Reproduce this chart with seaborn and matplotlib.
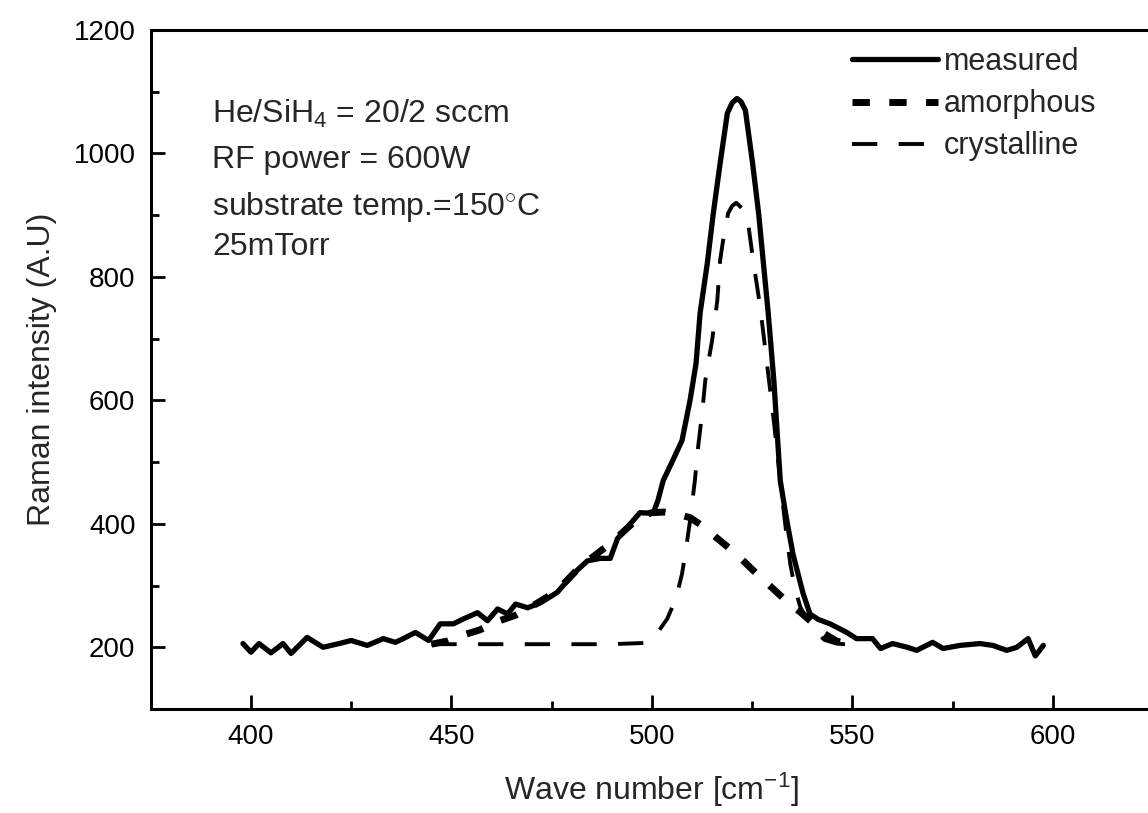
import numpy as np
import pandas as pd
import seaborn as sns
import matplotlib.pyplot as plt
from matplotlib.ticker import MultipleLocator

# measured Raman spectrum
measured_x = [398, 400, 402, 405, 408, 410, 414, 418, 422, 425, 429, 433, 436, 438,
              441, 444.3, 447.2, 450.5, 453, 456.5, 459, 461.5, 464, 466, 469, 472.2,
              476.4, 480.4, 483.9, 487.1, 489.6, 491.4, 493.8, 497, 500.3, 501.5,
              502.8, 505, 507.5, 509.5, 511, 512, 513.8, 515.3, 517, 518.8, 520,
              521.2, 522.2, 523.3, 525.1, 526.6, 527.8, 529, 530.4, 532, 533.5,
              535.2, 537.7, 539.4, 541.5, 544.4, 548.6, 551, 555, 557, 560, 563.7,
              566, 570, 572.6, 576.8, 581.8, 585, 588.5, 591, 593.8, 595.6, 597.6]
measured_y = [206, 192, 206, 191, 206, 190, 216, 200, 206, 211, 203, 214, 208, 214,
              224, 211, 238, 238, 246, 256, 243, 262, 254, 270, 264, 272,
              289, 319, 340, 344, 344, 376, 394, 418, 417, 438,
              470, 500, 535, 600, 660, 741, 822, 903, 984, 1065, 1082,
              1089, 1084, 1070, 984, 903, 822, 741, 632, 470, 410,
              350, 287, 254, 245, 238, 224, 214, 214, 198, 206, 200,
              195, 208, 198, 203, 206, 203, 195, 200, 214, 186, 203]

# broad component
amorphous_x = [445, 449, 453, 457, 462, 466, 470, 474, 478, 482, 486, 490, 494, 497,
               500, 503, 506, 509.5, 513, 516, 519, 522, 525, 528, 531, 534, 537,
               540, 543, 546, 550]
amorphous_y = [205, 210, 220, 228, 243, 252, 266, 282, 303, 330, 350, 370, 394, 412,
               418, 419, 416, 410, 395, 378, 362, 345, 326, 308, 290, 272, 257,
               240, 222, 210, 204]

# narrow component
crystalline_x = [445, 450, 460, 470, 480, 490, 498, 501, 503.8, 506, 507.5, 508.3,
                 509.5, 510.7, 511.5, 512.5, 513.3, 514, 515, 516.3, 517, 518, 519,
                 520, 521, 522.5, 524, 525.3, 527, 528.2, 529.4, 530.5, 531.5, 532.5,
                 533.5, 534.5, 535.5, 537, 539, 541, 543, 546, 550]
crystalline_y = [205, 205, 205, 205, 205, 205, 207, 220, 246, 279, 319, 351,
                 405, 470, 524, 578, 632, 660, 697, 762, 827, 870, 903,
                 915, 920, 911, 886, 824, 751, 686, 621, 560, 500, 440,
                 385, 335, 300, 265, 242, 225, 212, 206, 204]

conditions = ['He/SiH$_4$ = 20/2 sccm', 'RF power = 600W',
              'substrate temp.=150$^{\\circ}$C', '25mTorr']

sns.set_style('ticks')
plt.rcParams['font.family'] = ['Liberation Sans', 'DejaVu Sans']
plt.rcParams['mathtext.fontset'] = 'custom'
plt.rcParams['mathtext.rm'] = 'Liberation Sans'
plt.rcParams['mathtext.it'] = 'Liberation Sans'

W, H = 1148, 813
fig = plt.figure(figsize=(W / 100, H / 100), dpi=100)
ax = fig.add_axes([150.7 / W, 1 - 709 / H, 1002.5 / W, 679 / H])

meas_df = pd.DataFrame({'x': measured_x, 'y': measured_y})
amor_df = pd.DataFrame({'x': amorphous_x, 'y': amorphous_y})
crys_df = pd.DataFrame({'x': crystalline_x, 'y': crystalline_y})

sns.lineplot(data=meas_df, x='x', y='y', ax=ax, color='black', lw=3.8,
             estimator=None, sort=False, label='measured')
sns.lineplot(data=amor_df, x='x', y='y', ax=ax, color='black', lw=5,
             linestyle=(0, (2.5, 2.8)), estimator=None, sort=False, label='amorphous')
sns.lineplot(data=crys_df, x='x', y='y', ax=ax, color='black', lw=2.8,
             linestyle=(0, (6.5, 5.5)), estimator=None, sort=False, label='crystalline')

ax.set_xlim(375, 625)
ax.set_ylim(100, 1200)
ax.xaxis.set_major_locator(MultipleLocator(50))
ax.xaxis.set_minor_locator(MultipleLocator(25))
ax.yaxis.set_major_locator(MultipleLocator(200))
ax.yaxis.set_minor_locator(MultipleLocator(100))
ax.tick_params(which='both', direction='in', width=2, colors='black', labelsize=20)
ax.tick_params(which='major', length=10, pad=11)
ax.tick_params(which='minor', length=6)
for s in ax.spines.values():
    s.set_linewidth(2.2)
    s.set_color('black')
ax.spines['right'].set_visible(False)

ax.set_xlabel('Wave number [cm$^{-1}$]', fontsize=23, labelpad=15)
ax.set_ylabel('Raman intensity (A.U)', fontsize=23, labelpad=12)

baselines = [123, 168, 215, 255]
for txt, by in zip(conditions, baselines):
    fig.text(212 / W, 1 - by / H, txt, fontsize=23, va='baseline', ha='left')

ax.legend(loc='upper left', bbox_to_anchor=(852 / W, 1 - 47 / H),
          bbox_transform=fig.transFigure, frameon=False, fontsize=22,
          handlelength=2.8, handletextpad=0.2, labelspacing=0.4,
          borderpad=0, borderaxespad=0)

fig.savefig('out.png', dpi=100)
